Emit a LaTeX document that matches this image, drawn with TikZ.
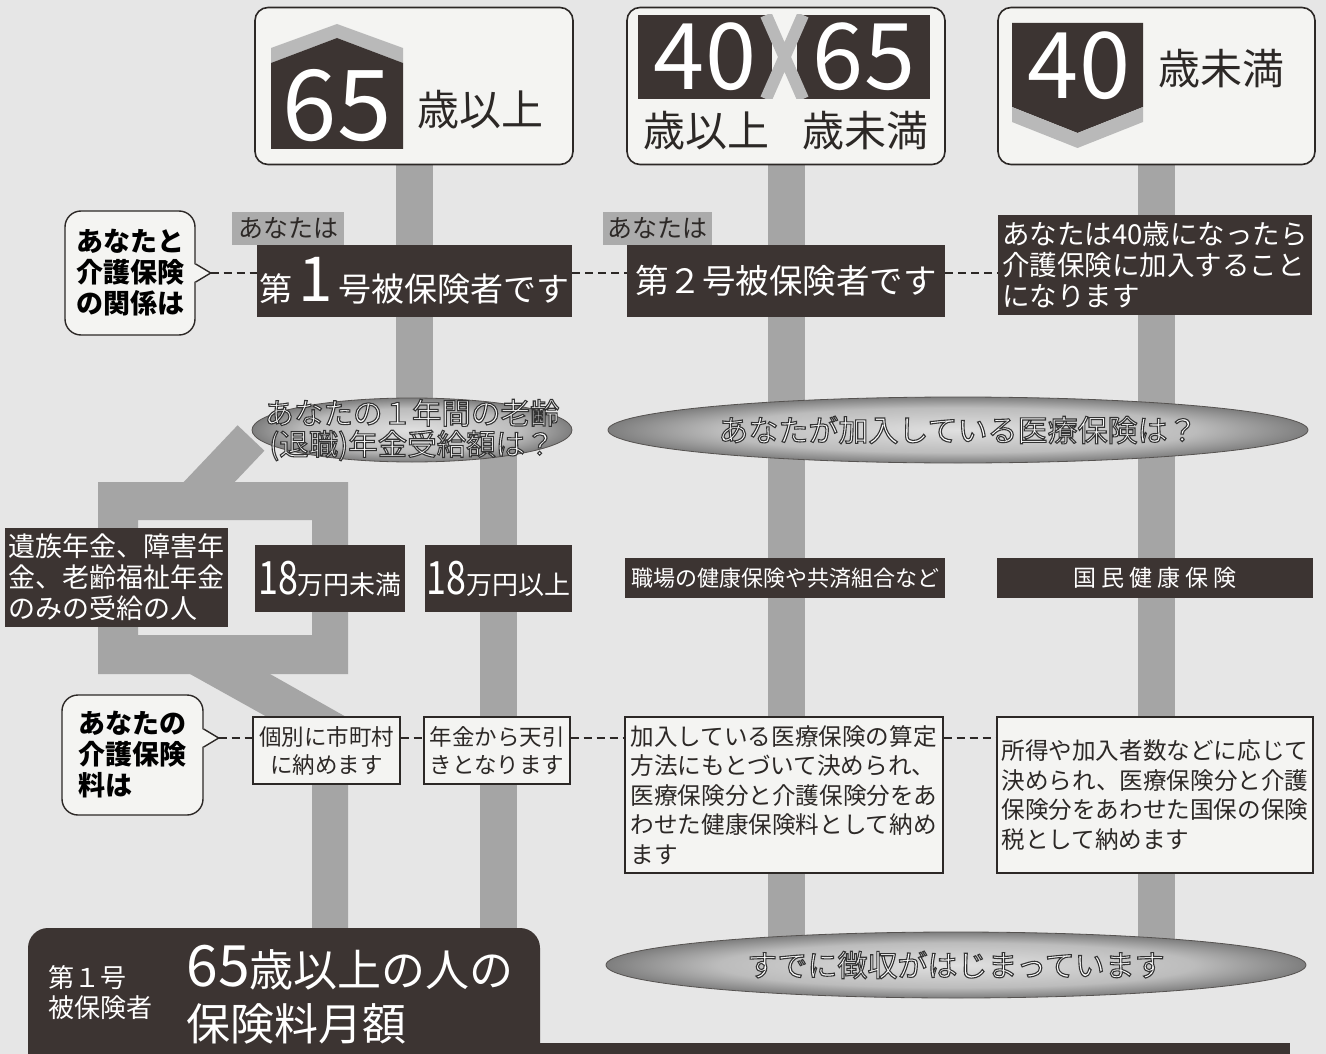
\documentclass[tikz,border=0pt]{standalone}
\usepackage{fontspec}
\setmainfont{Noto Sans CJK JP}
\usepackage{graphicx}
\usetikzlibrary{positioning,shapes.geometric}
\definecolor{paper}{HTML}{E6E6E6}
\definecolor{board}{HTML}{F4F4F2}
\definecolor{ink}{HTML}{2C2826}
\definecolor{platefill}{HTML}{3C3432}
\definecolor{polegray}{HTML}{A5A5A5}
\definecolor{tagfill}{HTML}{ABABAB}
\definecolor{chevron}{HTML}{B9B9B9}
\definecolor{discin}{HTML}{E0E0E0}
\definecolor{discmid}{HTML}{BCBCBC}
\definecolor{discedge}{HTML}{7E7E7E}
\definecolor{discout}{HTML}{474747}
\pgfdeclareradialshading{discshade}{\pgfpoint{0bp}{0bp}}{color(0bp)=(discin); color(17bp)=(discmid); color(25bp)=(discedge); color(31bp)=(discout); color(50bp)=(discout)}
\pgfdeclarelayer{paperlayer}
\pgfdeclarelayer{polelayer}
\pgfsetlayers{paperlayer,polelayer,main}
\newcommand\rimtext[1]{\special{pdf:literal direct 0.2 0.2 0.2 RG 1.1 w 2 Tr}#1\special{pdf:literal direct 0 Tr}}
\newcommand\bubbletip[1]{%
	\fill[board] ([xshift=-2pt,yshift=9pt]#1) -- ([xshift=15pt]#1) -- ([xshift=-2pt,yshift=-9pt]#1) -- cycle;
	\draw[ink, line width=1.4pt] ([yshift=9pt]#1) -- ([xshift=15pt]#1) -- ([yshift=-9pt]#1);}

\begin{document}
\begin{tikzpicture}[
		x=1pt, y=-1pt,
		sign/.style={draw=ink, line width=1.6pt, fill=board, rounded corners=13pt, inner sep=0pt},
		plate/.style={fill=platefill, text=white, inner sep=0pt},
		nametag/.style={fill=tagfill, text=ink, inner sep=0pt, minimum height=33pt, font=\fontsize{25}{25}\selectfont},
		note/.style={draw=ink, line width=1.2pt, fill=board, text=ink, inner sep=0pt},
		bubble/.style={draw=ink, line width=1.4pt, fill=board, rounded corners=16pt, inner sep=0pt, align=left, font=\bfseries\fontsize{27}{31}\selectfont},
		disc/.style={ellipse, draw=ink!80, line width=0.8pt, shading=discshade, inner sep=0pt},
		disctext/.style={text=white, align=center, font=\fontsize{29.5}{31}\selectfont},
		pole/.style={line width=37pt, draw=polegray},
		link/.style={draw=ink, line width=1.3pt, dash pattern=on 8pt off 5pt}]
		\useasboundingbox (0,0) rectangle (1326,1054);
		\begin{pgfonlayer}{paperlayer}
			\fill[paper] (0,0) rectangle (1326,1054);
		\end{pgfonlayer}

		\node[sign, minimum width=318pt, minimum height=157pt] (signA) at (414,86) {};
		\node[sign, minimum width=318pt, minimum height=157pt] (signB) at (786,86) {};
		\node[sign, minimum width=317pt, minimum height=157pt] (signC) at (1156.5,86) {};
		\fill[chevron] (271,63) -- (271,48) -- (337,24) -- (403,48) -- (403,63) -- (337,38) -- cycle;
		\fill[platefill] (271,149) -- (271,63) -- (337,38) -- (403,63) -- (403,149) -- cycle;
		\fill[platefill] (638,15) rectangle (772,99);
		\fill[platefill] (797,15) rectangle (930,99);
		\begin{scope}
			\clip (740,15) rectangle (830,99);
			\draw[chevron, line width=12pt] (766,15) -- (803,99) (803,15) -- (766,99);
		\end{scope}
		\fill[platefill] (1012,23) -- (1143,23) -- (1143,107) -- (1077.5,133) -- (1012,107) -- cycle;
		\fill[chevron] (1012,107) -- (1077.5,133) -- (1143,107) -- (1143,122) -- (1077.5,148) -- (1012,122) -- cycle;
		\node[text=white, font=\fontsize{98}{98}\selectfont] (numA) at (337,106) {65};
		\node[text=ink, font=\fontsize{42}{42}\selectfont] (wordA) at (480,110) {歳以上};
		\node[text=white, font=\fontsize{92}{92}\selectfont] (numB1) at (705,57) {40};
		\node[text=white, font=\fontsize{92}{92}\selectfont] (numB2) at (864,57) {65};
		\node[text=ink, font=\fontsize{42}{42}\selectfont] (wordB1) at (706,131) {歳以上};
		\node[text=ink, font=\fontsize{42}{42}\selectfont] (wordB2) at (865,131) {歳未満};
		\node[text=white, font=\fontsize{92}{92}\selectfont] (numC) at (1079,66) {40};
		\node[text=ink, font=\fontsize{42}{42}\selectfont] (wordC) at (1221,69) {歳未満};

		\node[bubble, minimum width=130pt, minimum height=124pt] (askA) at (130,273) {あなたと\\介護保険\\の関係は};
		\bubbletip{askA.east}
		\coordinate (tipA) at ([xshift=15pt]askA.east);
		\node[nametag, minimum width=112pt] (tagA) at (288,228.5) {あなたは};
		\node[plate, minimum width=315pt, minimum height=72pt, font=\fontsize{33}{33}\selectfont] (firstA) at (414.5,281) {第\,{\fontsize{62}{62}\selectfont 1}\,号被保険者です};
		\node[nametag, minimum width=109pt] (tagB) at (657.5,228.5) {あなたは};
		\node[plate, minimum width=318pt, minimum height=72pt, font=\fontsize{33.5}{33.5}\selectfont] (secondB) at (786,281) {第２号被保険者です};
		\node[plate, minimum width=314pt, minimum height=100pt, align=left, font=\fontsize{27.5}{31}\selectfont] (joinC) at (1155,265) {あなたは40歳になったら\\介護保険に加入すること\\になります};
		\draw[link] (tipA) -- (tipA -| firstA.west);
		\draw[link] (tipA -| firstA.east) -- (tipA -| secondB.west);
		\draw[link] (tipA -| secondB.east) -- (tipA -| joinC.west);

		\node[disc, minimum width=320pt, minimum height=64pt] (ageQ) at (412,430) {};
		\node[disctext] (ageQtext) at (ageQ) {\rimtext{あなたの１年間の老齢}\\\rimtext{(退職)年金受給額は？}};
		\node[disc, minimum width=700pt, minimum height=66pt] (medQ) at (958,430) {};
		\node[disctext, font=\fontsize{30}{31}\selectfont] (medQtext) at (medQ) {\rimtext{あなたが加入している医療保険は？}};

		\node[plate, minimum width=223pt, minimum height=99pt, align=left, font=\fontsize{27}{31}\selectfont] (onlyP) at (116.5,577.5) {遺族年金、障害年\\金、老齢福祉年金\\のみの受給の人};
		\node[plate, minimum width=150pt, minimum height=67pt, font=\fontsize{26}{26}\selectfont] (under18) at (330,578.5) {\scalebox{0.78}[1]{\fontsize{46}{46}\selectfont 18}万円未満};
		\node[plate, minimum width=147pt, minimum height=67pt, font=\fontsize{26}{26}\selectfont] (over18) at (498.5,578.5) {\scalebox{0.78}[1]{\fontsize{46}{46}\selectfont 18}万円以上};
		\node[plate, minimum width=320pt, minimum height=40pt, font=\fontsize{22}{22}\selectfont] (workI) at (785,578) {職場の健康保険や共済組合など};
		\node[plate, minimum width=316pt, minimum height=40pt, font=\fontsize{23}{23}\selectfont\addfontfeature{LetterSpace=22}] (kokuhoI) at (1155,578) {国民健康保険};

		\node[bubble, minimum width=141pt, minimum height=120pt] (askB) at (132.5,755) {あなたの\\介護保険\\料は};
		\coordinate (baseB) at ([yshift=17pt]askB.east);
		\bubbletip{baseB}
		\coordinate (tipB) at ([xshift=15pt]baseB);
		\node[note, minimum width=147pt, minimum height=67pt, align=center, font=\fontsize{22.5}{28}\selectfont] (payCity) at (326.5,750.5) {個別に市町村\\に納めます};
		\node[note, minimum width=146pt, minimum height=67pt, align=center, font=\fontsize{22.5}{28}\selectfont] (payPension) at (497,750.5) {年金から天引\\きとなります};
		\node[note, minimum width=318pt, minimum height=156pt, align=left, font=\fontsize{23.6}{29.5}\selectfont] (payHealth) at (784,795) {加入している医療保険の算定\\方法にもとづいて決められ、\\医療保険分と介護保険分をあ\\わせた健康保険料として納め\\ます};
		\node[note, minimum width=316pt, minimum height=156pt, align=left, font=\fontsize{23.6}{29.5}\selectfont] (payKokuho) at (1155,795) {所得や加入者数などに応じて\\決められ、医療保険分と介護\\保険分をあわせた国保の保険\\税として納めます};
		\draw[link] (tipB) -- (tipB -| payCity.west);
		\draw[link] (tipB -| payCity.east) -- (tipB -| payPension.west);
		\draw[link] (tipB -| payPension.east) -- (tipB -| payHealth.west);
		\draw[link] (tipB -| payHealth.east) -- (tipB -| payKokuho.west);

		\node[disc, minimum width=700pt, minimum height=66pt] (started) at (956,965) {};
		\node[disctext, font=\fontsize{30}{31}\selectfont] (startedtext) at (started) {\rimtext{すでに徴収がはじまっています}};

		\node[fill=platefill, rounded corners=20pt, minimum width=512pt, minimum height=170pt, inner sep=0pt] (banner) at (284,1013) {};
		\fill[platefill] (banner.east |- 0,1043) rectangle (1290,1060);
		\node[text=white, align=left, anchor=west, font=\fontsize{26}{30}\selectfont] (bannerTag) at (45,993) {第１号\\被保険者};
		\node[text=white, align=left, anchor=west, font=\fontsize{44}{54}\selectfont] (bannerTitle) at (183,995) {{\fontsize{57}{54}\selectfont 65}歳以上の人の\\保険料月額};

		\begin{pgfonlayer}{polelayer}
			\draw[pole] (signA.south) -- (signA.south |- ageQ.center);
			\draw[pole] (signB.south) -- (signB.south |- started.center);
			\draw[pole] (signC.south) -- (signC.south |- started.center);
			\draw[pole] (ageQ.center -| over18) -- (over18 |- banner.north);
			\fill[polegray, even odd rule] (98,482) rectangle (348,674) (138,520) rectangle (312,635);
			\draw[pole] (251,438) -- (195,497);
			\fill[polegray] (190,674) -- (270,674) -- (348,718) -- (348,940) -- (312,940) -- (312,742) -- cycle;
		\end{pgfonlayer}
\end{tikzpicture}
\end{document}
